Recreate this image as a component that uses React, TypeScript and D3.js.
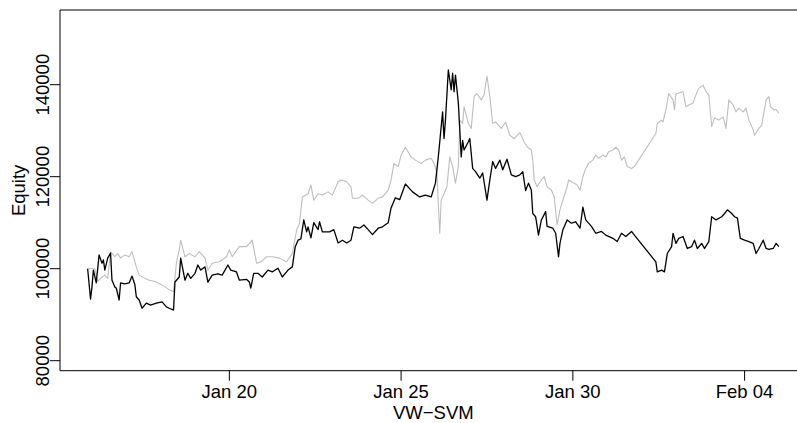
import React from "react";
import * as d3 from "d3";

// Hours since 2015-01-15 00:00 UTC, equity values (black series)
const blackHours = [21,23,24,25,27,29,31,32,33,35,37,38,40,41,43,44,47,50,52,54,55,57,59,62,65,69,73,76,78,81,82,85,86,89,91,93,96,98,100,103,105,108,112,115,119,121,125,127,132,134,135,137,140,143,147,150,154,157,161,164,166,168,170,172,174,175,177,179,182,183,185,190,193,196,199,202,205,207,211,214,217,220,224,227,231,233,236,239,243,248,253,257,261,264,266,269,270,271,273,275,276,277,278,280,281,282,283,284,287,288,290,292,295,297,300,302,304,306,309,311,314,317,320,323,325,327,329,331,332,334,336,338,341,342,346,348,350,351,353,356,359,362,365,367,369,373,376,380,383,388,391,394,397,401,403,418,419,422,424,426,429,430,432,434,437,440,443,445,447,450,452,455,457,460,464,466,468,471,473,475,477,480,483,486,488,490,493,495,497,500,502,504];
const blackEquity = [100000,93400,96000,99700,96900,103000,101200,101900,99700,102300,103400,97500,96000,95800,93200,96900,96700,96900,98400,96500,93900,93200,91400,92500,92100,92500,92800,91700,91400,91000,97100,98200,102300,97500,99000,97900,99000,100800,99700,100400,97100,98600,98900,98600,100800,99700,99300,97500,97700,97100,95800,99000,99000,98200,99700,99300,100100,98200,99700,100400,104700,106200,106500,110600,108000,109100,106700,110000,108500,110200,108000,108000,108500,105600,106200,105600,106200,109100,108800,109500,108500,107400,108800,109100,110000,113200,115400,115000,118400,116700,115600,116000,115600,118600,124300,134100,128300,132300,143200,138900,142500,138500,142100,136000,130200,124300,127900,125800,127600,128300,121800,121100,119700,120800,114900,119300,123300,121800,123600,121500,123800,120400,120000,120400,121100,117000,118600,117100,112000,111300,107300,110600,112400,109200,108800,107700,102600,105500,108400,110600,109900,110200,108800,113400,110600,109200,107700,108100,107300,106600,105900,107700,107000,108100,107300,101500,99300,99700,99300,103300,104800,107700,105500,106600,107000,104400,104800,106200,104400,105500,104400,105900,111300,110600,111300,112000,112800,112000,111300,111000,106600,106200,105900,105500,103300,104400,106200,104400,104200,104400,105500,104800];

// Gray series
const grayHours = [21,26,28,30,33,35,37,40,42,44,47,50,52,55,57,61,64,68,71,75,78,81,83,85,86,89,92,96,99,103,105,108,113,118,120,122,127,132,136,139,142,146,150,155,160,164,167,169,171,175,177,179,182,185,189,192,196,198,202,205,206,210,213,217,220,224,227,231,233,235,238,240,243,247,250,254,257,261,263,265,267,268,270,272,274,276,278,280,281,283,284,287,289,291,293,296,298,300,302,304,306,310,313,316,319,323,326,328,331,332,333,335,338,340,342,345,347,349,351,353,356,357,359,361,363,365,367,369,371,374,376,378,381,383,385,388,390,392,394,396,398,401,403,418,419,422,423,425,427,430,431,432,437,439,441,444,446,448,451,453,455,457,459,462,465,467,469,472,474,476,479,481,483,486,487,490,492,495,497,498,501,502,504];
const grayEquity = [100000,100000,97200,97900,98600,97900,103700,102600,103300,102300,103000,102600,103700,100400,98600,97900,97500,97200,96800,96100,95400,95000,101200,104100,106200,102600,103300,102600,103700,102300,99700,101200,101500,102600,104100,102600,104800,104800,106200,101200,101500,102600,102600,102300,101500,103300,108400,109800,115600,116300,118200,114900,116300,116000,116700,116000,118900,119300,118900,117800,115300,115300,116000,114900,114200,115300,115600,117100,119300,122900,122200,124700,126400,124300,123600,122900,123600,124000,122900,120800,107700,114900,116300,117800,124300,122200,118600,122200,132300,131600,135200,131600,130500,137400,138100,136700,137800,141900,137400,131600,131900,130500,131900,129000,128300,129600,127500,126500,125800,123600,119300,117800,119300,120000,117800,117100,115600,109500,112800,114900,117800,119300,118900,118600,118200,117100,120000,121800,122900,123600,124700,124000,124700,124300,125400,125800,126400,125800,123600,124300,122200,121800,122200,129400,131600,132300,131900,134500,138100,136700,134500,138000,138500,135200,135600,136000,137800,139200,139900,138500,137800,130900,132800,132300,133000,130500,136700,135600,134100,134900,134100,134900,132300,130200,129000,130500,131200,136700,137400,135200,134500,134600,133800];

const xTickDates = ["2015-01-20", "2015-01-25", "2015-01-30", "2015-02-04"];
const yTickValues = [80000, 100000, 120000, 140000];
const xLabel = "VW\u2212SVM";
const yLabel = "Equity";
const baseDate = Date.UTC(2015, 0, 15);

export default function App() {
  const W = 797, H = 423;
  const left = 60, top = 10, bottom = 370.7;
  const pxPerHour = 34.35 / 24;

  const toDate = (h: number) => new Date(baseDate + h * 3600 * 1000);
  const allHours = blackHours.concat(grayHours);
  const hMin = d3.min(allHours)!, hMax = d3.max(allHours)!;
  const pad = (hMax - hMin) * 0.04;
  const d0 = toDate(hMin - pad), d1 = toDate(hMax + pad);
  const right = left + (hMax - hMin + 2 * pad) * pxPerHour;

  const x = d3.scaleUtc().domain([d0, d1]).range([left, right]);
  const y = d3.scaleLinear().domain([77826, 156239]).range([bottom, top]);

  const line = d3
    .line<[number, number]>()
    .x((d) => x(toDate(d[0])))
    .y((d) => y(d[1]));

  const blackPts = blackHours.map((h, i) => [h, blackEquity[i]] as [number, number]);
  const grayPts = grayHours.map((h, i) => [h, grayEquity[i]] as [number, number]);
  const fmt = d3.utcFormat("%b %d");
  const font = "'Liberation Sans', Arial, Helvetica, sans-serif";

  return (
    <svg
      width={W}
      height={H}
      style={{ position: "absolute", left: 0, top: 0, background: "#fff" }}
      fontFamily={font}
    >
      <rect x={0} y={0} width={W} height={H} fill="#fff" />
      <path d={line(grayPts) || ""} fill="none" stroke="#bebebe" strokeWidth={1.1} strokeLinejoin="round" />
      <path d={line(blackPts) || ""} fill="none" stroke="#000" strokeWidth={1.3} strokeLinejoin="round" />
      <path
        d={`M${right},${top}H${left}V${bottom}H${right}`}
        fill="none"
        stroke="#000"
        strokeWidth={1}
      />
      {xTickDates.map((s) => {
        const dt = new Date(s + "T00:00:00Z");
        const px = x(dt);
        return (
          <g key={s}>
            <line x1={px} x2={px} y1={bottom} y2={bottom + 10} stroke="#000" strokeWidth={1} />
            <text x={px} y={397.5} textAnchor="middle" fontSize={18.5} fill="#000">
              {fmt(dt)}
            </text>
          </g>
        );
      })}
      {yTickValues.map((v) => {
        const py = y(v);
        return (
          <g key={v}>
            <line x1={left - 10} x2={left} y1={py} y2={py} stroke="#000" strokeWidth={1} />
            <text
              transform={`translate(48.5,${py}) rotate(-90)`}
              textAnchor="middle"
              fontSize={18.5}
              fill="#000"
            >
              {String(v)}
            </text>
          </g>
        );
      })}
      <text x={(left + right) / 2} y={419} textAnchor="middle" fontSize={18.5} fill="#000">
        {xLabel}
      </text>
      <text
        transform={`translate(25,${(top + bottom) / 2}) rotate(-90)`}
        textAnchor="middle"
        fontSize={18.5}
        fill="#000"
      >
        {yLabel}
      </text>
    </svg>
  );
}
